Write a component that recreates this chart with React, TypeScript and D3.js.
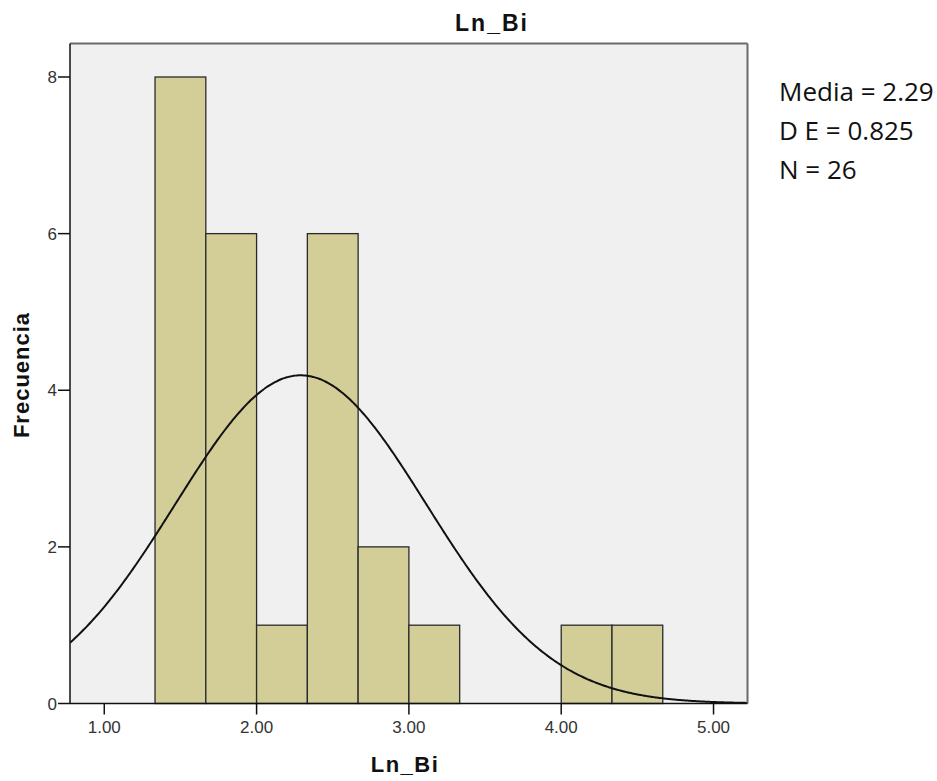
import React from "react";
import * as d3 from "d3";

const binEdges = [4 / 3, 5 / 3, 2, 7 / 3, 8 / 3, 3, 10 / 3, 11 / 3, 4, 13 / 3, 14 / 3];
const counts = [8, 6, 1, 6, 2, 1, 0, 0, 1, 1];
const xTicks = [1, 2, 3, 4, 5];
const yTicks = [0, 2, 4, 6, 8];
const stats = ["Media = 2.29", "D E = 0.825", "N = 26"];
const mean = 2.29;
const sd = 0.825;
const n = 26;

export default function App() {
  const W = 937, H = 781;
  const L = 70, R = 747.5, T = 43.5, B = 703.5;
  const x = d3.scaleLinear().domain([0.775, 5.223]).range([L, R]);
  const y = d3.scaleLinear().domain([0, 8]).range([B, 77]);
  const bw = binEdges[1] - binEdges[0];
  const pdf = (v: number) => (n * bw / (sd * Math.sqrt(2 * Math.PI))) * Math.exp(-0.5 * ((v - mean) / sd) ** 2);
  const pts = d3.range(0, 401).map((i) => {
    const v = 0.775 + (i / 400) * (5.223 - 0.775);
    return [x(v), y(pdf(v))] as [number, number];
  });
  const line = d3.line().curve(d3.curveBasis)(pts) || "";
  return (
    <svg width={W} height={H} style={{ position: "absolute", left: 0, top: 0 }}>
      <rect x={0} y={0} width={W} height={H} fill="#fff" />
      <rect x={L} y={T} width={R - L} height={B - T} fill="#f0f0f0" />
      <defs>
        <clipPath id="clip"><rect x={L} y={T} width={R - L} height={B - T} /></clipPath>
      </defs>
      {counts.map((c, i) =>
        c > 0 ? (
          <rect key={i} x={x(binEdges[i])} y={y(c)} width={x(binEdges[i + 1]) - x(binEdges[i])} height={B - y(c)}
            fill="#d3ce97" stroke="#2a2a2a" strokeWidth={1.3} />
        ) : null
      )}
      <path d={line} fill="none" stroke="#111" strokeWidth={2} clipPath="url(#clip)" />
      <line x1={L} y1={T} x2={R} y2={T} stroke="#6a6a6a" strokeWidth={2} />
      <line x1={R} y1={T} x2={R} y2={B} stroke="#6a6a6a" strokeWidth={2} />
      <line x1={L} y1={T} x2={L} y2={B} stroke="#111" strokeWidth={1.5} />
      <line x1={L} y1={B} x2={R} y2={B} stroke="#111" strokeWidth={1.5} />
      {xTicks.map((t) => (
        <g key={t}>
          <line x1={x(t)} x2={x(t)} y1={B} y2={B + 11} stroke="#111" strokeWidth={1.5} />
          <text x={x(t)} y={733} textAnchor="middle" fontFamily="Liberation Sans, Arial" fontSize={17} fill="#333">
            {t.toFixed(2)}
          </text>
        </g>
      ))}
      {yTicks.map((t) => (
        <g key={t}>
          <line x1={L - 12} x2={L} y1={y(t)} y2={y(t)} stroke="#111" strokeWidth={1.5} />
          <text x={57} y={y(t) + 6} textAnchor="end" fontFamily="Liberation Sans, Arial" fontSize={17} fill="#333">
            {t}
          </text>
        </g>
      ))}
      <text x={492} y={31} textAnchor="middle" fontFamily="Liberation Sans, Arial" fontWeight="bold" fontSize={23} letterSpacing={2} fill="#111">
        Ln_Bi
      </text>
      <text x={405} y={772} textAnchor="middle" fontFamily="Liberation Sans, Arial" fontWeight="bold" fontSize={22} letterSpacing={1.5} fill="#111">
        Ln_Bi
      </text>
      <text transform={`translate(29,375) rotate(-90)`} textAnchor="middle" fontFamily="Liberation Sans, Arial" fontWeight="bold" fontSize={22} letterSpacing={1} fill="#111">
        Frecuencia
      </text>
      {stats.map((s, i) => (
        <text key={s} x={779} y={101 + i * 39} fontFamily="Open Sans, Noto Sans" fontSize={26} fill="#111">
          {s}
        </text>
      ))}
    </svg>
  );
}
